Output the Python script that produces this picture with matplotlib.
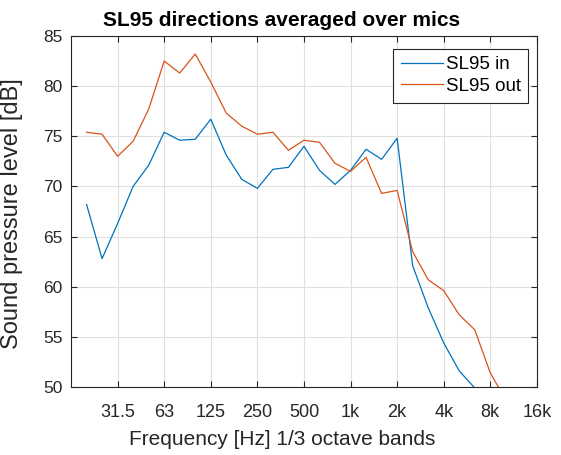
import numpy as np
import matplotlib
matplotlib.use("Agg")
import matplotlib.pyplot as plt

plt.rcParams["font.family"] = ["Liberation Sans", "DejaVu Sans"]

# 1/3-octave band centres, 20 Hz .. 10 kHz (exact base-2 values)
band_index = np.arange(-17, 11)
freqs = 1000.0 * 2.0 ** (band_index / 3.0)

sl95_in = [68.2, 62.8, 66.3, 70.0, 72.1, 75.4, 74.6, 74.7, 76.7, 73.1,
           70.7, 69.8, 71.7, 71.9, 74.0, 71.6, 70.2, 71.6, 73.7, 72.7,
           74.8, 62.1, 57.9, 54.4, 51.6, 49.9, 47.5, 45.0]
sl95_out = [75.4, 75.2, 73.0, 74.5, 77.7, 82.5, 81.3, 83.2, 80.4, 77.3,
            76.0, 75.2, 75.4, 73.6, 74.6, 74.4, 72.3, 71.5, 72.9, 69.3,
            69.6, 63.5, 60.7, 59.6, 57.2, 55.7, 51.4, 48.7]

tick_pos = 1000.0 * 2.0 ** (np.arange(-5, 5))
tick_labels = ["31.5", "63", "125", "250", "500", "1k", "2k", "4k", "8k", "16k"]
y_ticks = [50, 55, 60, 65, 70, 75, 80, 85]

dark = "#262626"

fig = plt.figure(figsize=(5.61, 4.55), dpi=100)
ax = fig.add_axes([0.1266, 0.1495, 0.8304, 0.7715])

ax.plot(freqs, sl95_in, color="#0072BD", lw=0.9, label="SL95 in")
ax.plot(freqs, sl95_out, color="#D95319", lw=0.9, label="SL95 out")

ax.set_xscale("log")
ax.set_xlim(1000.0 * 2.0 ** -6, 1000.0 * 2.0 ** 4)
ax.set_ylim(50, 85)
ax.set_xticks(tick_pos)
ax.set_xticklabels(tick_labels)
ax.xaxis.set_minor_locator(matplotlib.ticker.NullLocator())
ax.set_yticks(y_ticks)

ax.grid(True, color="#e0e0e0", lw=0.8)
ax.set_axisbelow(True)
ax.tick_params(direction="in", top=True, right=True, length=4,
               color=dark, labelcolor=dark)
ax.tick_params(axis="x", labelsize=13, pad=12)
ax.tick_params(axis="y", labelsize=12.5, pad=6)
for sp in ax.spines.values():
    sp.set_color(dark)
    sp.set_linewidth(0.8)

fig.text(282 / 561, 1 - 26 / 455, "SL95 directions averaged over mics",
         fontsize=15, fontweight="bold", ha="center", va="baseline")
ax.set_xlabel("Frequency [Hz] 1/3 octave bands", fontsize=15, color=dark)
ax.set_ylabel("Sound pressure level [dB]", fontsize=17, color=dark)
ax.xaxis.set_label_coords(0.453, -0.122)
ax.yaxis.set_label_coords(-0.103, 0.493)

leg = ax.legend(loc="upper right", fontsize=13.5, fancybox=False,
                framealpha=1, edgecolor=dark, bbox_to_anchor=(0.981, 0.964),
                borderaxespad=0, handlelength=2.25, handletextpad=0.15,
                borderpad=0.4, labelspacing=0.25)
leg.get_frame().set_linewidth(0.8)

fig.savefig("out.png", dpi=100)
